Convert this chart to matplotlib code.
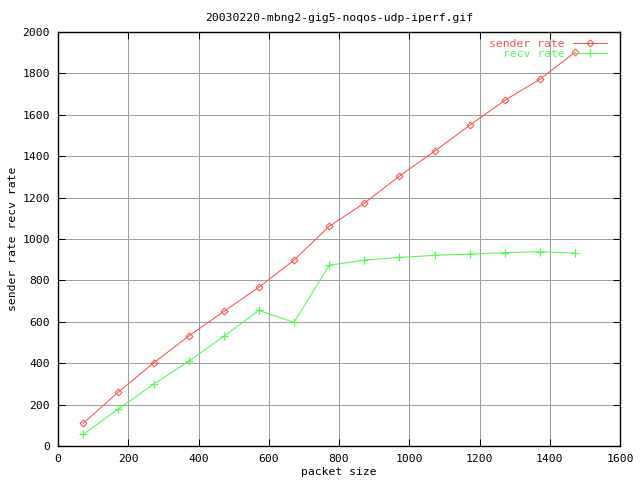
import matplotlib
matplotlib.use("Agg")
import matplotlib.pyplot as plt

packet_size = [72, 172, 272, 372, 472, 572, 672, 772, 872, 972, 1072, 1172, 1272, 1372, 1472]
sender_rate = [110, 261, 401, 531, 650, 767, 898, 1061, 1173, 1304, 1424, 1549, 1670, 1772, 1902]
recv_rate = [56, 179, 298, 409, 530, 655, 597, 873, 898, 911, 921, 927, 934, 939, 932]

xticks = [0, 200, 400, 600, 800, 1000, 1200, 1400, 1600]
yticks = [0, 200, 400, 600, 800, 1000, 1200, 1400, 1600, 1800, 2000]

FS = 8.2
plt.rcParams['font.family'] = ['DejaVu Sans Mono']
plt.rcParams['font.size'] = FS

RED = '#ff5050'
GREEN = '#50ff50'

fig = plt.figure(figsize=(6.4, 4.8), dpi=100)
ax = fig.add_axes([58/640, 34/480, 562/640, 414/480])

ax.plot(packet_size, sender_rate, color=RED, lw=0.75, marker='D', ms=3.5,
        mfc='none', mec=RED, mew=0.75, label='sender rate')
ax.plot(packet_size, recv_rate, color=GREEN, lw=0.75, marker='+', ms=5.5,
        mec=GREEN, mew=0.9, label='recv rate')

ax.set_xlim(0, 1600)
ax.set_ylim(0, 2000)
ax.set_xticks(xticks)
ax.set_yticks(yticks)
ax.grid(True, color='#a0a0a0', lw=0.75)
ax.set_axisbelow(True)
ax.tick_params(direction='in', top=True, right=True, length=5, width=0.75, pad=6)
for s in ax.spines.values():
    s.set_linewidth(1.0)
    s.set_color('black')

ax.set_title('20030220-mbng2-gig5-noqos-udp-iperf.gif', fontsize=FS, pad=8)
ax.set_xlabel('packet size', labelpad=2)
ax.set_ylabel('sender rate recv rate', labelpad=3)

leg = ax.legend(loc='upper right', bbox_to_anchor=(607/640, 448/480 - 7/480),
                bbox_transform=fig.transFigure, frameon=False, markerfirst=False,
                handlelength=3.0, handletextpad=0.7, labelspacing=0.0,
                borderaxespad=0, borderpad=0)
for t, c in zip(leg.get_texts(), [RED, GREEN]):
    t.set_color(c)

fig.savefig('out.png', dpi=100)
